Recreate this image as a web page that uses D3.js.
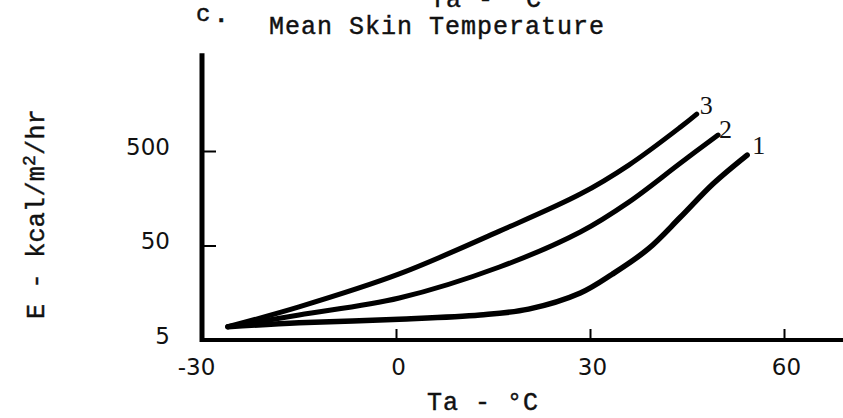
<!DOCTYPE html>
<html>
<head>
<meta charset="utf-8">
<script src="https://cdn.jsdelivr.net/npm/d3@7"></script>
<style>
  html, body { margin: 0; padding: 0; background: #fff; }
  svg { display: block; }
  .mono { font-family: "Liberation Mono", "DejaVu Sans Mono", monospace; fill: #111; stroke: #111; stroke-width: 0.45px; }
  .tick text { font-family: "DejaVu Sans", sans-serif; font-size: 23px; fill: #111; }
</style>
</head>
<body>
<script>
// Evaporative heat loss E vs. air temperature Ta, three conditions
const xTicks = [-30, 0, 30, 60];
const yTicks = [5, 50, 500];

const ta1 = [-26, -15, 0.5, 13, 20.5, 28.5, 33.5, 39, 44, 49, 54.3];
const e1  = [6.9, 7.6, 8.3, 9.2, 10.6, 15.7, 25, 46, 100, 224, 453];

const ta2 = [-26, -15, 0.5, 16, 28.5, 36, 44, 49.8];
const e2  = [6.9, 9.2, 13.9, 29.6, 69.5, 144, 373, 738];

const ta3 = [-26, -15, 0.5, 16, 28.5, 36, 44, 46.5];
const e3  = [6.9, 11.2, 25, 71, 175, 355, 897, 1230];

const curveNames = ["1", "2", "3"];

const W = 843, H = 418;
const svg = d3.select("body").append("svg").attr("width", W).attr("height", H);
svg.append("rect").attr("width", W).attr("height", H).attr("fill", "#fff");

const x = d3.scaleLinear().domain([-30, 60]).range([202, 784]);
const y = d3.scaleLog().domain([5, 5000]).range([340, 56.5]);

// axis lines
svg.append("line")
  .attr("x1", x(-30)).attr("x2", x(-30))
  .attr("y1", y(5) + 2).attr("y2", y(5400))
  .attr("stroke", "#000").attr("stroke-width", 5);
svg.append("line")
  .attr("x1", x(-30) - 2).attr("x2", W)
  .attr("y1", y(5)).attr("y2", y(5))
  .attr("stroke", "#000").attr("stroke-width", 4);

// x tick marks (pointing up) and labels
svg.append("g").attr("transform", `translate(0,${y(5)})`)
  .call(d3.axisTop(x).tickValues(xTicks.slice(1)).tickSize(11).tickFormat(""))
  .call(g => g.select(".domain").remove())
  .call(g => g.selectAll("line").attr("stroke", "#000").attr("stroke-width", 2));
svg.append("g").attr("transform", `translate(0,${y(5)})`)
  .call(d3.axisBottom(x).tickValues(xTicks).tickSize(0).tickPadding(19).tickFormat(d => String(d)))
  .call(g => g.select(".domain").remove())
  .call(g => g.selectAll("text").attr("dx", (d, i) => i === 0 ? -6 : 2));

// y tick marks (pointing right) and labels
svg.append("g").attr("transform", `translate(${x(-30)},0)`)
  .call(d3.axisRight(y).tickValues(yTicks.slice(1)).tickSize(14).tickFormat(""))
  .call(g => g.select(".domain").remove())
  .call(g => g.selectAll("line").attr("stroke", "#000").attr("stroke-width", 2));
svg.append("g").attr("transform", `translate(${x(-30)},0)`)
  .call(d3.axisLeft(y).tickValues(yTicks).tickSize(0).tickPadding(32).tickFormat(d => String(d)))
  .call(g => g.select(".domain").remove())
  .call(g => g.selectAll("text").attr("dy", "0.32em").attr("y", -4));

// curves
const line = d3.line().x(d => x(d[0])).y(d => y(d[1])).curve(d3.curveCatmullRom.alpha(0.5));
const series = [
  d3.zip(ta1, e1),
  d3.zip(ta2, e2),
  d3.zip(ta3, e3)
];
svg.append("g").selectAll("path").data(series).join("path")
  .attr("d", line)
  .attr("fill", "none")
  .attr("stroke", "#000")
  .attr("stroke-width", (d, i) => i === 0 ? 5.5 : 5)
  .attr("stroke-linecap", "round")
  .attr("stroke-linejoin", "round");

// curve numbers next to the line ends
const labelOffsets = [[5, -1], [1, 3], [3, 0]];
svg.append("g").selectAll("text").data(series).join("text")
  .attr("x", (d, i) => x(d[d.length - 1][0]) + labelOffsets[i][0])
  .attr("y", (d, i) => y(d[d.length - 1][1]) + labelOffsets[i][1])
  .attr("font-family", "Liberation Serif, serif")
  .attr("font-size", 26)
  .attr("fill", "#111")
  .text((d, i) => curveNames[i]);

// titles
svg.append("text").attr("class", "mono")
  .attr("x", 486).attr("y", 7).attr("text-anchor", "middle")
  .attr("font-size", 25).attr("letter-spacing", 1)
  .text("Ta - °C");
svg.append("text").attr("class", "mono")
  .attr("x", 196).attr("y", 21)
  .attr("font-size", 24)
  .text("c");
svg.append("text").attr("class", "mono")
  .attr("x", 214).attr("y", 22)
  .attr("font-size", 24).attr("font-weight", "bold")
  .text(".");
svg.append("text").attr("class", "mono")
  .attr("x", 437).attr("y", 34).attr("text-anchor", "middle")
  .attr("font-size", 25).attr("letter-spacing", 1)
  .text("Mean Skin Temperature");
svg.append("text").attr("class", "mono")
  .attr("x", 483).attr("y", 410).attr("text-anchor", "middle")
  .attr("font-size", 25).attr("letter-spacing", 1)
  .text("Ta - °C");

// y axis title with superscript
const yt = svg.append("text").attr("class", "mono")
  .attr("transform", "translate(44,214) rotate(-90)")
  .attr("text-anchor", "middle")
  .attr("font-size", 25).attr("letter-spacing", 0.3);
yt.append("tspan").text("E - kcal/m");
yt.append("tspan").attr("dy", -9).attr("font-size", 18).text("2");
yt.append("tspan").attr("dy", 9).text("/hr");
</script>
</body>
</html>
